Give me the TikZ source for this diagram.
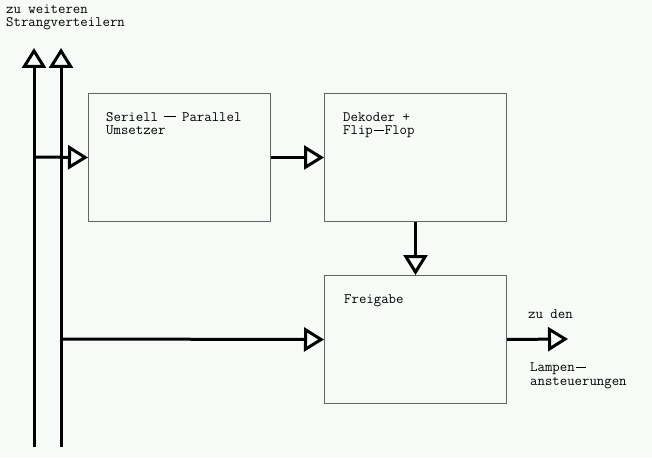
\documentclass[tikz,border=0pt]{standalone}
\usepackage{fontspec}
\usetikzlibrary{arrows.meta}
\definecolor{bg}{RGB}{247,251,247}
\definecolor{boxc}{RGB}{100,100,100}
\newcommand\mydash[1]{\rule[3.8pt]{#1}{0.9pt}}
\tikzset{
  blk/.style={draw=boxc, line width=1pt, minimum width=182pt, minimum height=128pt, inner sep=0pt, anchor=north west},
  lbl/.style={anchor=base west, inner sep=0pt, font=\fontsize{14.4}{13.8}\selectfont\ttfamily\addfontfeatures{FakeBold=0.4}, align=left},
  sig/.style={line width=3pt, -{Triangle[open, length=20pt, width=24pt, line width=3pt]}},
}
\begin{document}
\begin{tikzpicture}[x=1pt,y=-1pt]
\fill[bg] (0,0) rectangle (652,457);
\useasboundingbox (0,0) rectangle (652,457);
% boxes
\node[blk] (sp) at (88,93) {};
\node[blk] (dk) at (324,93) {};
\node[blk] (fg) at (324,275) {};
% texts (anchored at the baseline of the last line)
\node[lbl] (t1) at (6,27) {zu weiteren\\Strangverteilern};
\node[lbl] (t2) at (106,135) {Seriell\hspace{6pt}\mydash{12pt}\hspace{6pt}Parallel\\Umsetzer};
\node[lbl] (t3) at (343,135) {Dekoder +\\Flip\hspace{1pt}\mydash{10pt}\hspace{1pt}Flop};
\node[lbl] (t4) at (344,303) {Freigabe};
\node[lbl] (t5) at (528,318) {zu den};
\node[lbl] (t6) at (530,385) {Lampen\hspace{1pt}\mydash{10pt}\\ansteuerungen};
% bus lines
\coordinate (b1) at (34,447);
\coordinate (u1) at (34,48);
\coordinate (b2) at (61,447);
\coordinate (u2) at (61,48);
\coordinate (j1) at (34,157);
\coordinate (j2) at (61,339);
\coordinate (out) at (568,339);
\draw[sig] (b1) -- (u1);
\draw[sig] (b2) -- (u2);
\draw[sig] (j1) -- (sp.west);
\draw[sig] (sp.east) -- (dk.west);
\draw[sig] (dk.south) -- (fg.north);
\draw[sig] (j2) -- (fg.west);
\draw[sig] (fg.east) -- (out);
\end{tikzpicture}
\end{document}
